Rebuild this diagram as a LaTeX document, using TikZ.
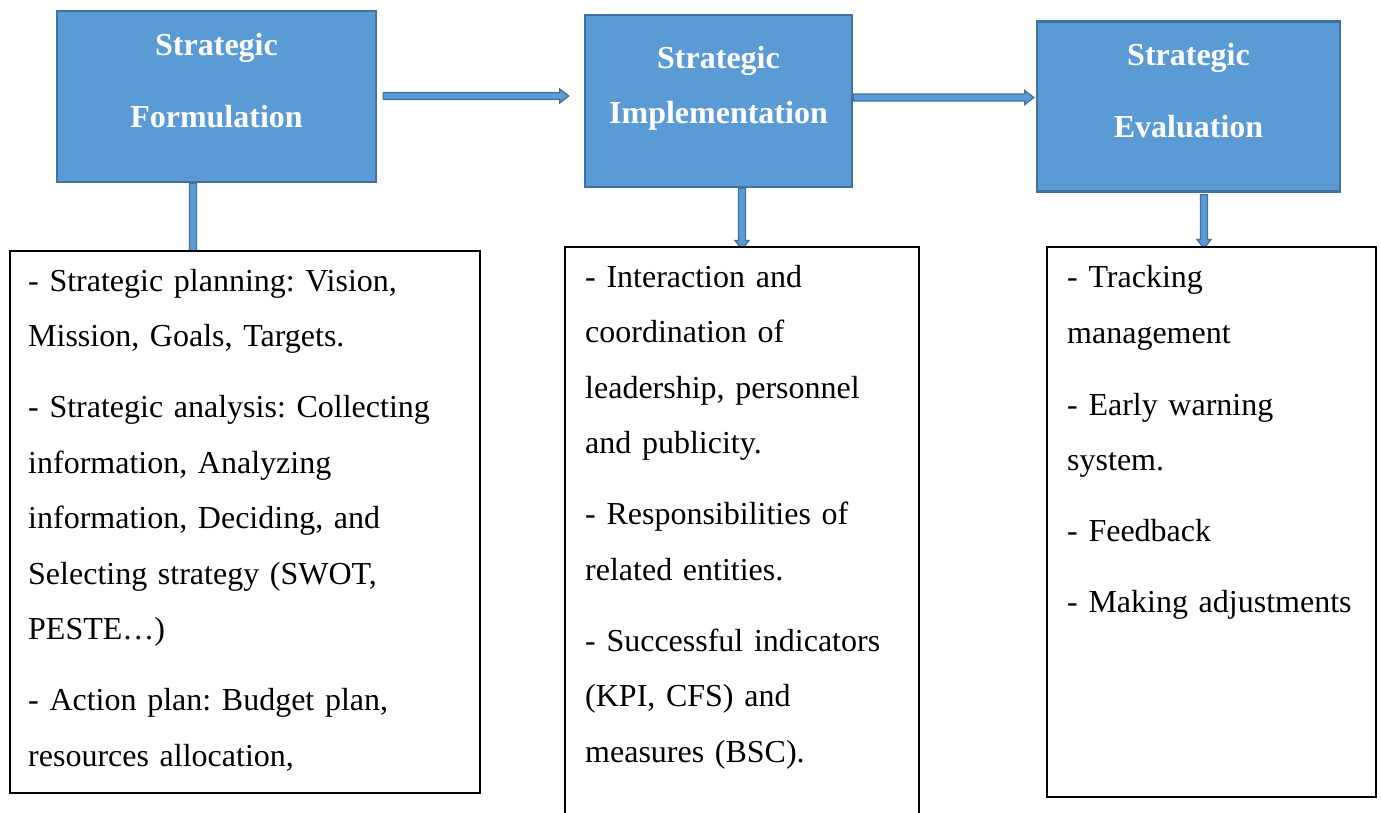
\documentclass[tikz,border=0pt]{standalone}
\usepackage{fontspec}
\setmainfont{Liberation Serif}
\usetikzlibrary{calc}
\definecolor{boxfill}{HTML}{5B9BD5}
\definecolor{boxline}{HTML}{41719C}
\pgfdeclarelayer{bg}
\pgfsetlayers{bg,main}
\frenchspacing
\begin{document}
\begin{tikzpicture}[x=1pt,y=-1pt,
  headbox/.style={draw=boxline,fill=boxfill,line width=2.5pt,inner sep=0pt},
  listbox/.style={draw=black,fill=white,line width=1.2pt,inner sep=0pt},
  titletext/.style={font=\fontsize{32}{55.5}\selectfont\bfseries\frenchspacing,text=white,align=center,text width=300pt,inner sep=0pt,anchor=north},
  bodytext/.style={font=\fontsize{32}{55.5}\selectfont\frenchspacing,align=left,text width=450pt,inner sep=0pt,anchor=north west},
  barrow/.style={draw=boxline,fill=boxfill,line width=1.3pt,line join=miter}]
\useasboundingbox (0,0) rectangle (1381,812);
% blue heading boxes
\node[headbox,minimum width=319pt,minimum height=171pt] (f) at (216.5,96.5) {};
\node[headbox,minimum width=267pt,minimum height=172pt] (i) at (718.5,101) {};
\node[headbox,minimum width=303pt,minimum height=170pt] (e) at (1188.5,106.5) {};
% list boxes
\node[listbox,minimum width=470pt,minimum height=542pt] (ta) at (245,522) {};
\node[listbox,minimum width=354pt,minimum height=570pt] (tb) at (742,532) {};
\node[listbox,minimum width=329pt,minimum height=550pt] (tc) at (1211.5,522) {};
% titles
\node[titletext] (t1) at (216.5,16.15) {\strut Strategic\\[16.5pt]Formulation};
\node[titletext] (t2) at (718.5,29.15) {\strut Strategic\\Implementation};
\node[titletext] (t3) at (1188.5,26.15) {\strut Strategic\\[16.5pt]Evaluation};
% body texts
\node[bodytext] (xa) at (28,252.15) {\strut - Strategic planning: Vision,\\
Mission, Goals, Targets.\\[15.5pt]
- Strategic analysis: Collecting\\
information, Analyzing\\
information, Deciding, and\\
Selecting strategy (SWOT,\\
PESTE…)\\[15.5pt]
- Action plan: Budget plan,\\
resources allocation,};
\node[bodytext] (xb) at (585,248.15) {\strut - Interaction and\\
coordination of\\
leadership, personnel\\
and publicity.\\[15.5pt]
- Responsibilities of\\
related entities.\\[15.5pt]
- Successful indicators\\
(KPI, CFS) and\\
measures (BSC).};
\node[bodytext] (xc) at (1067,248.65) {\strut - Tracking\\
management\\[16.5pt]
- Early warning\\
system.\\[15.5pt]
- Feedback\\[15.5pt]
- Making adjustments};
% connectors
\coordinate (h1s) at ($(f.east)+(6,-0.5)$);
\coordinate (h1e) at ($(h1s -| i.west)+(-15,0)$);
\coordinate (h2s) at ($(i.east)+(0,-3.5)$);
\coordinate (h2e) at ($(h2s -| e.west)+(-2,0)$);
\coordinate (v1s) at ($(f.south)+(-23.5,0)$);
\coordinate (v1e) at ($(v1s |- ta.north)+(0,11)$);
\coordinate (v2s) at ($(i.south)+(23.5,0)$);
\coordinate (v2e) at ($(v2s |- tb.north)+(0,3)$);
\coordinate (v3s) at ($(e.south)+(15.5,2)$);
\coordinate (v3e) at ($(v3s |- tc.north)+(0,2)$);
\begin{pgfonlayer}{bg}
\foreach \s/\e in {h1s/h1e,h2s/h2e}{
  \draw[barrow] ($(\s)+(0,-3.5)$) -- ($(\e)+(-9,-3.5)$) -- ($(\e)+(-9,-7)$) -- (\e)
    -- ($(\e)+(-9,7)$) -- ($(\e)+(-9,3.5)$) -- ($(\s)+(0,3.5)$) -- cycle;}
\foreach \s/\e in {v1s/v1e,v2s/v2e,v3s/v3e}{
  \draw[barrow] ($(\s)+(-3.5,0)$) -- ($(\e)+(-3.5,-9)$) -- ($(\e)+(-7,-9)$) -- (\e)
    -- ($(\e)+(7,-9)$) -- ($(\e)+(3.5,-9)$) -- ($(\s)+(3.5,0)$) -- cycle;}
\end{pgfonlayer}
\end{tikzpicture}
\end{document}
